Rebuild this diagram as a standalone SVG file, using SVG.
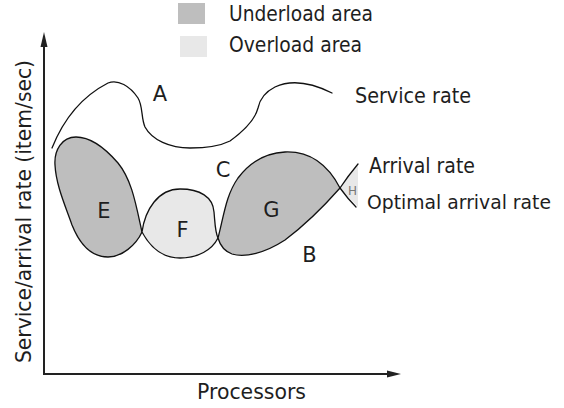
<svg xmlns="http://www.w3.org/2000/svg" width="564" height="408" viewBox="0 0 564 408">
<style>
text{font-family:"DejaVu Sans","Liberation Sans",sans-serif;fill:#1e1e1e;font-size:21px}
.lbl{text-anchor:middle}
.curve{fill:none;stroke:#111;stroke-width:1.3;stroke-linejoin:round;stroke-linecap:round}
.under{fill:#bebebe;stroke:#111;stroke-width:1.3;stroke-linejoin:round}
.over{fill:#e8e8e8;stroke:#111;stroke-width:1.3;stroke-linejoin:round}
.axis{stroke:#222;stroke-width:2;fill:none}
</style>
<rect width="564" height="408" fill="#fff"/>
<g id="legend">
<rect x="178" y="3" width="27" height="21" fill="#bebebe"/>
<rect x="180" y="36" width="27" height="21" fill="#e8e8e8"/>
<text x="229" y="21" textLength="144" lengthAdjust="spacingAndGlyphs">Underload area</text>
<text x="229" y="52" textLength="133" lengthAdjust="spacingAndGlyphs">Overload area</text>
</g>
<g id="axes">
<line class="axis" x1="44" y1="374" x2="44" y2="44"/>
<polygon points="44,32 40.5,47 47.5,47" fill="#222"/>
<line class="axis" x1="43" y1="374" x2="390" y2="374"/>
<polygon points="401,374 387,370.5 387,377.5" fill="#222"/>
<text transform="translate(31,363) rotate(-90)" textLength="303" lengthAdjust="spacingAndGlyphs">Service/arrival rate (item/sec)</text>
<text x="197" y="399" textLength="109" lengthAdjust="spacingAndGlyphs">Processors</text>
</g>
<g id="areas">
<path id="E" class="under" d="M142,232 C136,205 132,180 118,163 C105,148 90,137 76,137 C62,137 54,150 55,165 C56,185 65,205 72,225 C80,245 92,257 108,257 C122,257 136,245 142,232 Z"/>
<path id="F" class="over" d="M142,232 C145,210 158,189 180,189 C200,189 213,197 214,212 C215,222 215,232 218,238 C212,250 198,258 180,258 C162,258 150,247 142,232 Z"/>
<path id="G" class="under" d="M218,238 C224,215 226,195 238,178 C250,162 265,153 285,152 C310,151 328,165 340,188 C325,205 305,225 285,240 C265,253 245,258 232,254 C224,251 220,245 218,238 Z"/>
<polygon id="H" points="340,188 358,165 358,207" fill="#e8e8e8"/>
</g>
<g id="connectors">
<path id="service-rate" class="curve" d="M52,148 C60,128 75,100 108,83 C118,79 130,86 138,98 C143,106 141,118 145,127 C152,140 170,148 190,148 C205,148 220,146 230,141 C245,130 255,120 258,108 C260,98 265,92 275,87 C290,80 310,82 332,93"/>
<path class="curve" d="M340,188 Q348,176 358,164"/>
<path class="curve" d="M340,188 Q348,199 356,207"/>
</g>
<g id="labels">
<text class="lbl" x="160" y="101">A</text>
<text class="lbl" x="223" y="177">C</text>
<text class="lbl" x="104" y="218">E</text>
<text class="lbl" x="182.5" y="237">F</text>
<text class="lbl" x="271.5" y="217">G</text>
<text class="lbl" x="309.5" y="262">B</text>
<text class="lbl" x="352.5" y="195" style="font-size:12px;fill:#777">H</text>
<text x="355" y="103" textLength="116" lengthAdjust="spacingAndGlyphs">Service rate</text>
<text x="369" y="173" textLength="106" lengthAdjust="spacingAndGlyphs">Arrival rate</text>
<text x="367" y="209" style="font-size:19.5px" textLength="184" lengthAdjust="spacingAndGlyphs">Optimal arrival rate</text>
</g>
</svg>
